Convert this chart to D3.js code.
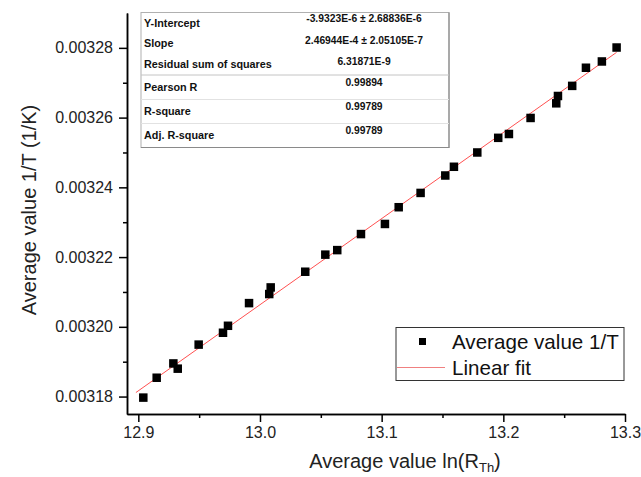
<!DOCTYPE html>
<html><head><meta charset="utf-8">
<script src="https://cdn.jsdelivr.net/npm/d3@7"></script>
<style>body{margin:0;background:#fff} svg{display:block;font-family:"Liberation Sans",Arial,sans-serif}</style>
</head><body><svg id="c" width="641" height="477"></svg>
<script>
const xValues = [12.9041, 12.9151, 12.9288, 12.9324, 12.9496, 12.9696, 12.9737, 12.9910, 13.0076, 13.0088, 13.0372, 13.0537, 13.0635, 13.0830, 13.1027, 13.1140, 13.1320, 13.1523, 13.1594, 13.1786, 13.1958, 13.2046, 13.2224, 13.2435, 13.2449, 13.2566, 13.2679, 13.2810, 13.2931];
const yValues = [0.0031797, 0.0031854, 0.0031895, 0.0031880, 0.0031949, 0.0031983, 0.0032003, 0.0032068, 0.0032094, 0.0032113, 0.0032158, 0.0032207, 0.0032220, 0.0032266, 0.0032295, 0.0032343, 0.0032384, 0.0032434, 0.0032459, 0.0032500, 0.0032542, 0.0032553, 0.0032599, 0.0032641, 0.0032662, 0.0032691, 0.0032743, 0.0032761, 0.0032801];
const fitIntercept = -3.9323e-6;
const fitSlope = 2.46944e-4;
const fitRange = [12.898, 13.2931];
const xTicks = [12.9, 13.0, 13.1, 13.2, 13.3];
const xMinorTicks = [12.95, 13.05, 13.15, 13.25];
const yTicks = [0.00318, 0.00320, 0.00322, 0.00324, 0.00326, 0.00328];
const yMinorTicks = [0.00319, 0.00321, 0.00323, 0.00325, 0.00327];
const tableLabels = ["Y-Intercept", "Slope", "Residual sum of squares", "Pearson R", "R-square", "Adj. R-square"];
const tableValues = ["-3.9323E-6 \u00b1 2.68836E-6", "2.46944E-4 \u00b1 2.05105E-7", "6.31871E-9", "0.99894", "0.99789", "0.99789"];
const legendLabels = ["Average value 1/T", "Linear fit"];

const svg = d3.select("#c");
const x = d3.scaleLinear().domain([12.8907, 13.3]).range([127, 625]);
const y = d3.scaleLinear().domain([0.003175, 0.00329]).range([414, 13]);

// fit line
const fitData = fitRange.map(v => [v, fitIntercept + fitSlope * v]);
svg.append("path")
  .attr("d", d3.line().x(d => x(d[0])).y(d => y(d[1]))(fitData))
  .attr("stroke", "#ff5050").attr("stroke-width", 1).attr("fill", "none");

// points
const ms = 8.5;
svg.append("g").selectAll("rect").data(xValues.map((v, i) => [v, yValues[i]])).join("rect")
  .attr("x", d => x(d[0]) - ms / 2).attr("y", d => y(d[1]) - ms / 2)
  .attr("width", ms).attr("height", ms).attr("fill", "#000");

// axes
function styleAxis(g) {
  g.selectAll("path.domain").attr("stroke", "#000").attr("stroke-width", 1.5);
  g.selectAll(".tick line").attr("stroke", "#000").attr("stroke-width", 1.5);
  g.selectAll(".tick text").attr("fill", "#222").style("font-size", "16px").style("font-family", '"Liberation Sans",Arial,sans-serif');
}
const gy = svg.append("g").attr("transform", "translate(127,0)")
  .call(d3.axisLeft(y).tickValues(yTicks).tickFormat(d3.format(".5f")).tickSize(8).tickSizeOuter(0).tickPadding(6));
styleAxis(gy);
const gym = svg.append("g").attr("transform", "translate(127,0)")
  .call(d3.axisLeft(y).tickValues(yMinorTicks).tickFormat("").tickSize(4).tickSizeOuter(0));
styleAxis(gym);
const gx = svg.append("g").attr("transform", "translate(0,414)")
  .call(d3.axisBottom(x).tickValues(xTicks).tickFormat(d3.format(".1f")).tickSize(8).tickSizeOuter(0).tickPadding(5));
styleAxis(gx);
const gxm = svg.append("g").attr("transform", "translate(0,414)")
  .call(d3.axisBottom(x).tickValues(xMinorTicks).tickFormat("").tickSize(4).tickSizeOuter(0));
styleAxis(gxm);

// axis titles
svg.append("text").attr("transform", "translate(36,210) rotate(-90)")
  .attr("text-anchor", "middle").style("font-size", "20px").attr("fill", "#222")
  .text("Average value 1/T (1/K)");
const xt = svg.append("text").attr("x", 405).attr("y", 468).attr("text-anchor", "middle")
  .style("font-size", "20px").attr("fill", "#222");
xt.append("tspan").text("Average value ln(R");
xt.append("tspan").attr("dy", 4).style("font-size", "13px").text("Th");
xt.append("tspan").attr("dy", -4).text(")");

// table
const tbl = svg.append("g");
tbl.append("rect").attr("x", 141).attr("y", 12.5).attr("width", 308).attr("height", 135)
  .attr("fill", "#fff").attr("stroke", "#b0b0b0").attr("stroke-width", 1);
tbl.append("path").attr("d", "M449,12.5V147.5H141").attr("fill", "none").attr("stroke", "#8a8a8a").attr("stroke-width", 1.2);
[75, 99.5, 123.5].forEach((yy, i) => {
  tbl.append("line").attr("x1", 141).attr("x2", 449).attr("y1", yy).attr("y2", yy)
    .attr("stroke", i === 0 ? "#c4c4c4" : "#e2e2e2").attr("stroke-width", 1);
});
const labelY = [26.5, 47, 68, 91, 114.5, 138.5];
const valueY = [22, 44, 64.5, 85.5, 110, 134];
tbl.selectAll("text.lbl").data(tableLabels).join("text").attr("class", "lbl")
  .attr("x", 144).attr("y", (d, i) => labelY[i]).style("font-size", "10.8px").style("font-weight", "bold")
  .attr("fill", "#111").text(d => d);
tbl.selectAll("text.val").data(tableValues).join("text").attr("class", "val")
  .attr("x", 364).attr("y", (d, i) => valueY[i]).attr("text-anchor", "middle")
  .style("font-size", "10.3px").style("font-weight", "bold").attr("fill", "#111").text(d => d);

// legend
const lg = svg.append("g");
lg.append("rect").attr("x", 396).attr("y", 327.5).attr("width", 228).attr("height", 53)
  .attr("fill", "#fff").attr("stroke", "#333").attr("stroke-width", 1);
lg.append("rect").attr("x", 422.5 - 3.5).attr("y", 341.5 - 3.5).attr("width", 7).attr("height", 7).attr("fill", "#000");
lg.append("line").attr("x1", 397).attr("x2", 445).attr("y1", 367.5).attr("y2", 367.5)
  .attr("stroke", "#f08080").attr("stroke-width", 1);
lg.selectAll("text").data(legendLabels).join("text")
  .attr("x", 452).attr("y", (d, i) => 348.5 + i * 26).style("font-size", "20.6px").attr("fill", "#111")
  .text(d => d);
</script></body></html>
